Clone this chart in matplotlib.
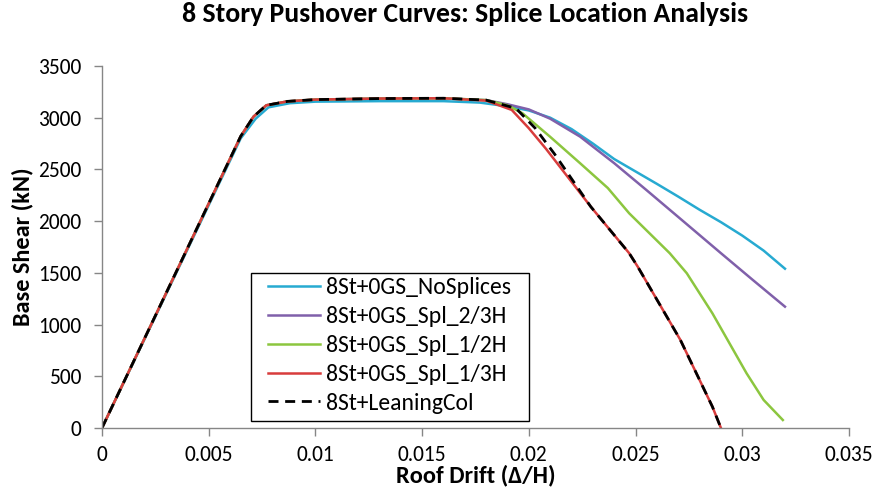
import numpy as np
import matplotlib
matplotlib.use("Agg")
import matplotlib.pyplot as plt
from matplotlib.patches import Rectangle

# ---- pushover curves: roof drift ratio vs base shear (kN) ----
nosplice_drift = [0, 0.0065, 0.0072, 0.0078, 0.0088, 0.010, 0.013, 0.016, 0.0177, 0.019,
                  0.020, 0.021, 0.022, 0.023, 0.024, 0.025, 0.026, 0.027, 0.028, 0.029,
                  0.030, 0.031, 0.032]
nosplice_shear = [0, 2800, 2990, 3100, 3140, 3155, 3160, 3160, 3146, 3110,
                  3070, 3000, 2890, 2750, 2600, 2480, 2360, 2237, 2110, 1990,
                  1860, 1715, 1540]

spl23_drift = [0, 0.0065, 0.0071, 0.0077, 0.0087, 0.010, 0.013, 0.016, 0.018, 0.019,
               0.020, 0.021, 0.0224, 0.024, 0.0255, 0.027, 0.029, 0.0305, 0.032]
spl23_shear = [0, 2820, 3010, 3120, 3158, 3175, 3185, 3188, 3170, 3130,
               3080, 2990, 2817, 2560, 2302, 2040, 1690, 1430, 1173]

spl12_drift = [0, 0.0065, 0.0071, 0.0077, 0.0087, 0.010, 0.013, 0.016, 0.018, 0.019,
               0.0197, 0.021, 0.0224, 0.0237, 0.0247, 0.0266, 0.0274, 0.0286, 0.0302,
               0.0310, 0.0319]
spl12_shear = [0, 2820, 3010, 3120, 3158, 3175, 3185, 3188, 3170, 3120,
               3043, 2815, 2560, 2320, 2076, 1690, 1496, 1109, 529,
               271, 77]

spl13_drift = [0, 0.0065, 0.0071, 0.0077, 0.0087, 0.010, 0.013, 0.016, 0.018, 0.0192,
               0.0200, 0.0208, 0.0229, 0.0247, 0.0251, 0.0271, 0.0286, 0.0290]
spl13_shear = [0, 2820, 3010, 3120, 3158, 3175, 3185, 3188, 3165, 3075,
               2898, 2700, 2140, 1690, 1560, 851, 206, 0]

leaning_drift = [0, 0.0065, 0.0071, 0.0077, 0.0087, 0.010, 0.013, 0.016, 0.018, 0.0194,
                 0.0203, 0.0212, 0.0229, 0.0247, 0.0251, 0.0271, 0.0286, 0.0290]
leaning_shear = [0, 2820, 3010, 3120, 3158, 3175, 3185, 3188, 3170, 3090,
                 2898, 2650, 2140, 1690, 1560, 851, 206, 0]

labels = ["8St+0GS_NoSplices", "8St+0GS_Spl_2/3H", "8St+0GS_Spl_1/2H",
          "8St+0GS_Spl_1/3H", "8St+LeaningCol"]
colors = ["#27AAD1", "#8060AA", "#8CC63F", "#D83C3C", "black"]

x_ticks = [0, 0.005, 0.01, 0.015, 0.02, 0.025, 0.03, 0.035]
x_tick_labels = ["0", "0.005", "0.01", "0.015", "0.02", "0.025", "0.03", "0.035"]
y_ticks = [0, 500, 1000, 1500, 2000, 2500, 3000, 3500]

plt.rcParams["font.family"] = ["Carlito", "Open Sans", "DejaVu Sans"]

fig = plt.figure(figsize=(8.73, 4.88), dpi=100)
ax = fig.add_axes([0.1168, 0.123, 0.8557, 0.7418])

series = [
    (nosplice_drift, nosplice_shear),
    (spl23_drift, spl23_shear),
    (spl12_drift, spl12_shear),
    (spl13_drift, spl13_shear),
]
for (d, v), lab, c in zip(series, labels[:4], colors[:4]):
    ax.plot(d, v, color=c, linewidth=1.8, label=lab, solid_joinstyle="round")

ax.plot(leaning_drift, leaning_shear, color=colors[4], linewidth=2.0,
        linestyle=(0, (3.6, 2.4)), label=labels[4])

ax.set_xlim(0, 0.035)
ax.set_ylim(0, 3500)
ax.set_xticks(x_ticks)
ax.set_xticklabels(x_tick_labels)
ax.set_yticks(y_ticks)

for side in ["top", "right"]:
    ax.spines[side].set_visible(False)
for side in ["left", "bottom"]:
    ax.spines[side].set_color("#868686")
    ax.spines[side].set_linewidth(1.0)
ax.tick_params(axis="both", direction="out", length=6, width=1.0,
               color="#868686", labelsize=15.5, labelcolor="black")
ax.tick_params(axis="x", pad=6)
ax.tick_params(axis="y", pad=9)

ax.set_xlabel("Roof Drift (Δ/H)", fontsize=17.5, fontweight="bold", labelpad=0)
ax.set_ylabel("Base Shear (kN)", fontsize=17.5, fontweight="bold", labelpad=3)
fig.suptitle("8 Story Pushover Curves: Splice Location Analysis",
             fontsize=20, fontweight="bold", x=0.533, y=0.995, va="top")

# legend entries without their own frame; the box is drawn separately so the
# left margin can be wider than the top/bottom margin
leg = ax.legend(loc="upper left", bbox_to_anchor=(0.2222, 0.4157), fontsize=17,
                frameon=False, handlelength=2.2, labelspacing=0.33,
                borderpad=0, handletextpad=0.25, borderaxespad=0)
ax.add_patch(Rectangle((0.1995, 0.0202), 0.3721, 0.4088, transform=ax.transAxes,
                       facecolor="white", edgecolor="black", linewidth=1.0,
                       zorder=4.9))
leg.set_zorder(5)

fig.savefig("out.png", dpi=100)
